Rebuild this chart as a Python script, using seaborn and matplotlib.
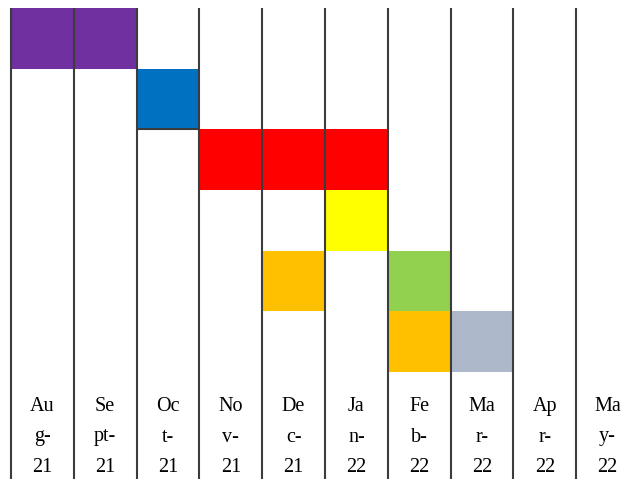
import numpy as np
import pandas as pd
import matplotlib
matplotlib.use("Agg")
import matplotlib.pyplot as plt
from matplotlib.colors import ListedColormap
import seaborn as sns

# ================================
# Data
# ================================
month_labels = ["Au\ng-\n21", "Se\npt-\n21", "Oc\nt-\n21", "No\nv-\n21", "De\nc-\n21",
                "Ja\nn-\n22", "Fe\nb-\n22", "Ma\nr-\n22", "Ap\nr-\n22", "Ma\ny-\n22"]
n_rows = 6

# one entry per filled cell: row, month column, colour key
cell_rows = [0, 0, 1, 2, 2, 2, 3, 4, 4, 5, 5]
cell_cols = [0, 1, 2, 3, 4, 5, 5, 4, 6, 6, 7]
cell_keys = ["purple", "purple", "blue", "red", "red", "red", "yellow",
             "orange", "green", "orange", "grey"]

palette = {"purple": "#7030A0", "blue": "#0070C0", "red": "#FF0000",
           "yellow": "#FFFF00", "orange": "#FFC000", "green": "#92D050",
           "grey": "#ADB9CA"}

# ================================
# Build grid
# ================================
keys = list(palette.keys())
grid = np.full((n_rows, len(month_labels)), np.nan)
for r, c, k in zip(cell_rows, cell_cols, cell_keys):
    grid[r, c] = keys.index(k)
grid_df = pd.DataFrame(grid)

sns.set_style("white")
plt.rcParams['font.family'] = ['Liberation Serif', 'DejaVu Serif']

fig = plt.figure(figsize=(6.34, 4.79), dpi=100)
ax = fig.add_axes([0, 0, 1, 1])

sns.heatmap(grid_df, ax=ax, cmap=ListedColormap([palette[k] for k in keys]),
            vmin=-0.5, vmax=len(keys) - 0.5, cbar=False, linewidths=0,
            xticklabels=False, yticklabels=False)

# pixel layout: first column edge at x=11, 62.8 px per column; rows 8..372
col_w = 62.8
row_h = (372 - 8) / n_rows
x0 = -11 / col_w
x1 = x0 + 634 / col_w
y_top = -8 / row_h
y_bot = n_rows + (479 - 372) / row_h
ax.set_xlim(x0, x1)
ax.set_ylim(y_bot, y_top)

# column separators
ax.vlines(np.arange(len(month_labels)), 0, y_bot, color="#3c3c3c", lw=1.5, zorder=3)
ax.hlines(2, 2, 3, color="#3c3c3c", lw=1.5, zorder=3)

# month labels
for i, lab in enumerate(month_labels):
    ax.text(i + 0.5, n_rows + (437 - 372) / row_h, lab, ha="center", va="center",
            fontsize=14.5, linespacing=1.85, color="black")

for s in ax.spines.values():
    s.set_visible(False)

fig.savefig("out.png", dpi=100)
